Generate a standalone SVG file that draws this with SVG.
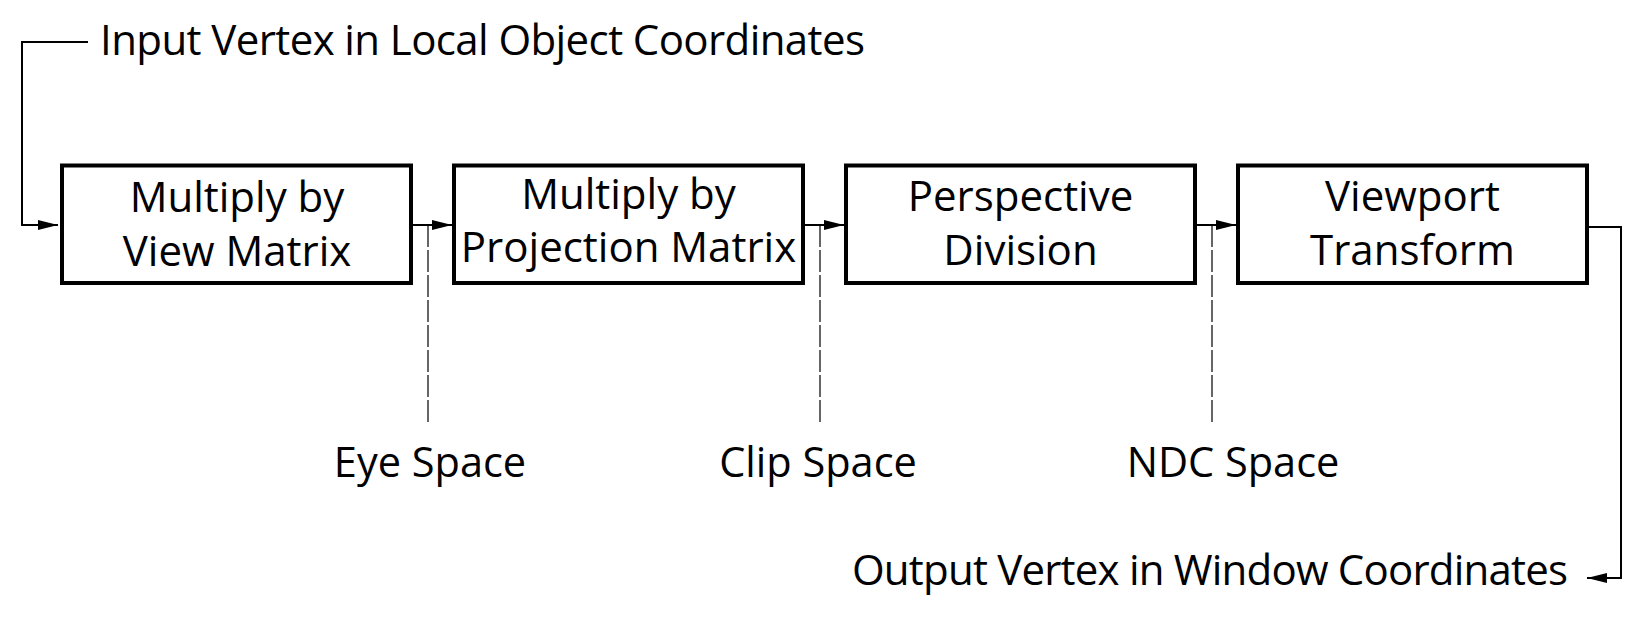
<svg xmlns="http://www.w3.org/2000/svg" width="1650" height="621" viewBox="0 0 1650 621">
  <style>
    .box { fill: #ffffff; stroke: #000000; stroke-width: 4; }
    .t { font-family: "Open Sans", "Noto Sans", sans-serif; font-size: 42px; fill: #000000; }
    .lbl { font-family: "Open Sans", "Noto Sans", sans-serif; font-size: 41.5px; fill: #000000; }
    .big { font-family: "Open Sans", "Noto Sans", sans-serif; font-size: 42px; fill: #000000; }
    .wire { fill: none; stroke: #000000; stroke-width: 2; }
    .dash { fill: none; stroke: #000000; stroke-width: 1.2; stroke-dasharray: 22 3; }
  </style>
  <defs>
    <marker id="arr" viewBox="0 0 20 10" refX="20" refY="5" markerWidth="20" markerHeight="10" markerUnits="userSpaceOnUse" orient="auto">
      <path d="M0,0 L20,5 L0,10 Z" fill="#000000"/>
    </marker>
  </defs>
  <rect width="1650" height="621" fill="#ffffff"/>

  <g id="connectors">
    <path class="wire" d="M88,42 H22 V225 H58" marker-end="url(#arr)"/>
    <path class="wire" d="M411,225 H452" marker-end="url(#arr)"/>
    <path class="wire" d="M803,225 H844" marker-end="url(#arr)"/>
    <path class="wire" d="M1195,225 H1236" marker-end="url(#arr)"/>
    <path class="wire" d="M1588,227 H1621 V578 H1587" marker-end="url(#arr)"/>
    <path class="dash" d="M428,225 V422"/>
    <path class="dash" d="M820,225 V422"/>
    <path class="dash" d="M1212,225 V422"/>
  </g>

  <g id="input-label">
    <text class="big" x="100" y="55" textLength="765">Input Vertex in Local Object Coordinates</text>
  </g>

  <g id="node-view">
    <rect class="box" x="62" y="165.5" width="349" height="117.5"/>
    <text class="t" x="237" y="212" text-anchor="middle">Multiply by</text>
    <text class="t" x="237" y="266" text-anchor="middle">View Matrix</text>
  </g>

  <g id="node-projection">
    <rect class="box" x="454" y="165.5" width="349" height="117.5"/>
    <text class="t" x="628.5" y="209" text-anchor="middle">Multiply by</text>
    <text class="t" x="628.5" y="262" text-anchor="middle">Projection Matrix</text>
  </g>

  <g id="node-perspective">
    <rect class="box" x="846" y="165.5" width="349" height="117.5"/>
    <text class="t" x="1020.5" y="211" text-anchor="middle">Perspective</text>
    <text class="t" x="1020.5" y="265" text-anchor="middle">Division</text>
  </g>

  <g id="node-viewport">
    <rect class="box" x="1238" y="165.5" width="349" height="117.5"/>
    <text class="t" x="1412.5" y="211" text-anchor="middle">Viewport</text>
    <text class="t" x="1412.5" y="265" text-anchor="middle">Transform</text>
  </g>

  <g id="space-labels">
    <text class="lbl" x="430" y="477" text-anchor="middle">Eye Space</text>
    <text class="lbl" x="818" y="477" text-anchor="middle">Clip Space</text>
    <text class="lbl" x="1233" y="477" text-anchor="middle">NDC Space</text>
  </g>

  <g id="output-label">
    <text class="big" x="852" y="585" textLength="716">Output Vertex in Window Coordinates</text>
  </g>
</svg>
